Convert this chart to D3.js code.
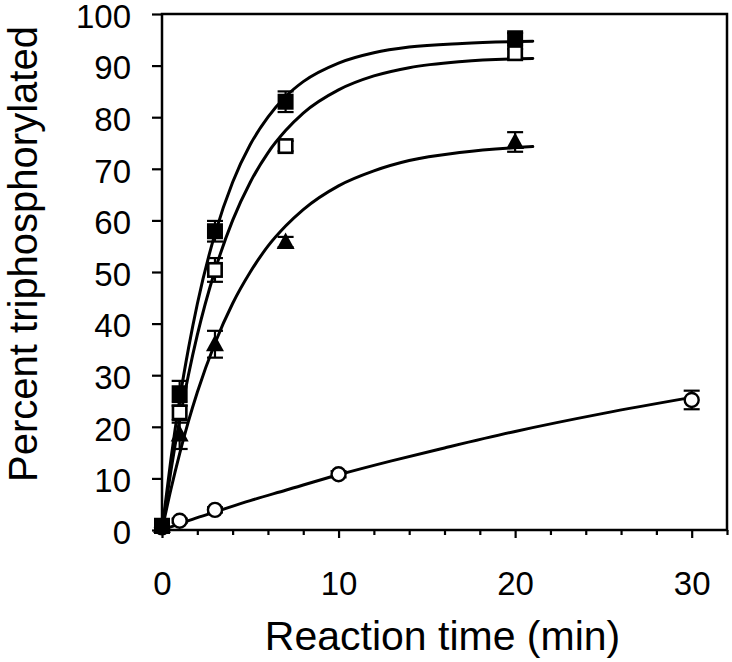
<!DOCTYPE html>
<html>
<head>
<meta charset="utf-8">
<script src="https://cdn.jsdelivr.net/npm/d3@7"></script>
<style>
  html, body { margin: 0; padding: 0; background: #fff; }
  svg { display: block; }
  text { font-family: "Liberation Sans", Arial, Helvetica, sans-serif; fill: #000; }
</style>
</head>
<body>
<svg id="chart" width="732" height="662"></svg>
<script>
// ---- data ----
const xTicks = [0, 2, 4, 6, 8, 10, 12, 14, 16, 18, 20, 22, 24, 26, 28, 30, 32];
const xTickLabels = [0, 10, 20, 30];
const yTicks = [0, 10, 20, 30, 40, 50, 60, 70, 80, 90, 100];

const sqTimes = [0, 1, 3, 7, 20];
const filledSqValues = [0.8, 26.5, 57.9, 83.0, 95.3];
const filledSqErr    = [0.5, 2.4, 2.0, 2.0, 1.0];
const openSqValues   = [0.8, 22.8, 50.4, 74.4, 92.4];
const openSqErr      = [0.5, 2.0, 2.3, 1.0, 0.8];
const triValues      = [0.8, 18.5, 36.0, 55.8, 75.2];
const triErr         = [0.5, 2.8, 2.6, 1.0, 1.9];

const circleTimes  = [0, 1, 3, 10, 30];
const circleValues = [0.5, 1.8, 3.9, 10.8, 25.2];
const circleErr    = [0.3, 0.4, 0.5, 0.6, 1.8];

// fitted curves
const fitTimes   = [0, 0.5, 1, 1.5, 2, 3, 4, 5, 6, 7, 8, 10, 12, 14, 17, 21];
const filledFit  = [0, 13.6, 25.3, 35.2, 43.8, 57.4, 67.4, 74.7, 80.0, 84.0, 86.9, 90.5, 92.5, 93.6, 94.3, 94.7];
const openFit    = [0, 11.4, 21.4, 30.1, 37.8, 50.3, 60.0, 67.4, 73.1, 77.4, 80.8, 85.3, 88.0, 89.6, 90.8, 91.4];
const triFit     = [0, 7.8, 14.8, 21.1, 26.7, 36.2, 43.9, 50.0, 55.0, 58.9, 62.1, 66.7, 69.6, 71.6, 73.2, 74.3];
const circleFitTimes = [0, 1, 2, 3, 5, 7, 10, 13, 16, 20, 25, 30];
const circleFit      = [0, 1.2, 2.4, 3.5, 5.7, 7.7, 10.7, 13.4, 15.9, 19.1, 22.6, 25.7];

const xTitle = "Reaction time (min)";
const yTitle = "Percent triphosphorylated";

// ---- layout ----
const svg = d3.select("#chart");
const plotL = 162, plotR = 727, plotT = 14, plotB = 530;
const x = d3.scaleLinear().domain([0, 32]).range([plotL, plotR]);
const y = d3.scaleLinear().domain([0, 100]).range([plotB, plotT]);

// axes
const xAxis = d3.axisBottom(x)
  .tickValues(xTicks)
  .tickSize(5)
  .tickFormat(d => xTickLabels.includes(d) ? d : "");
const gx = svg.append("g").attr("transform", `translate(0,${plotB})`).call(xAxis);
gx.select(".domain").remove();
gx.selectAll(".tick line")
  .attr("stroke", "#000").attr("stroke-width", 2.2)
  .attr("y2", d => d % 10 === 0 ? 8 : 5);
gx.selectAll(".tick text")
  .attr("y", 42).attr("dy", "0.71em")
  .style("font-size", "33px");

const yAxis = d3.axisLeft(y).tickValues(yTicks).tickSize(10).tickPadding(21);
const gy = svg.append("g").attr("transform", `translate(${plotL},0)`).call(yAxis);
gy.select(".domain").remove();
gy.selectAll(".tick line").attr("stroke", "#000").attr("stroke-width", 2.2);
gy.selectAll(".tick text").attr("dy", "0.4em").style("font-size", "33px");

// frame
svg.append("rect")
  .attr("x", plotL).attr("y", plotT)
  .attr("width", plotR - plotL).attr("height", plotB - plotT)
  .attr("fill", "none").attr("stroke", "#000").attr("stroke-width", 2.5);

// titles
svg.append("text")
  .attr("x", (plotL + plotR) / 2 - 2).attr("y", 650)
  .attr("text-anchor", "middle")
  .style("font-size", "41px")
  .text(xTitle);
svg.append("text")
  .attr("transform", `translate(37,254) rotate(-90)`)
  .attr("text-anchor", "middle")
  .style("font-size", "40px")
  .text(yTitle);

// curves
const line = d3.line().x(d => x(d[0])).y(d => y(d[1])).curve(d3.curveMonotoneX);
const curves = [
  fitTimes.map((t, i) => [t, filledFit[i]]),
  fitTimes.map((t, i) => [t, openFit[i]]),
  fitTimes.map((t, i) => [t, triFit[i]]),
  circleFitTimes.map((t, i) => [t, circleFit[i]])
];
svg.append("g").selectAll("path").data(curves).join("path")
  .attr("d", line)
  .attr("fill", "none").attr("stroke", "#000").attr("stroke-width", 3)
  .attr("stroke-linecap", "round");

// series
const series = [
  { type: "circle",  t: circleTimes, v: circleValues, e: circleErr },
  { type: "tri",     t: sqTimes, v: triValues, e: triErr },
  { type: "openSq",  t: sqTimes, v: openSqValues, e: openSqErr },
  { type: "filledSq",t: sqTimes, v: filledSqValues, e: filledSqErr }
];

const capW = 8;
series.forEach(s => {
  const pts = s.t.map((t, i) => ({ t, v: s.v[i], e: s.e[i] }));
  const g = svg.append("g");
  const eb = g.append("g").attr("stroke", "#000").attr("stroke-width", 2.2).attr("fill", "none");
  pts.forEach(p => {
    const cx = x(p.t), y1 = y(p.v + p.e), y0 = y(p.v - p.e);
    eb.append("line").attr("x1", cx).attr("x2", cx).attr("y1", y1).attr("y2", y0);
    eb.append("line").attr("x1", cx - capW).attr("x2", cx + capW).attr("y1", y1).attr("y2", y1);
    eb.append("line").attr("x1", cx - capW).attr("x2", cx + capW).attr("y1", y0).attr("y2", y0);
  });
  const m = g.append("g");
  pts.forEach(p => {
    const cx = x(p.t), cy = y(p.v);
    if (s.type === "circle") {
      m.append("circle").attr("cx", cx).attr("cy", cy).attr("r", 7)
        .attr("fill", "#fff").attr("stroke", "#000").attr("stroke-width", 2.4);
    } else if (s.type === "tri") {
      m.append("path")
        .attr("d", `M${cx},${cy - 9.5}L${cx + 9},${cy + 7}L${cx - 9},${cy + 7}Z`)
        .attr("fill", "#000");
    } else if (s.type === "openSq") {
      m.append("rect").attr("x", cx - 6.7).attr("y", cy - 6.7).attr("width", 13.4).attr("height", 13.4)
        .attr("fill", "#fff").attr("stroke", "#000").attr("stroke-width", 2.6);
    } else {
      m.append("rect").attr("x", cx - 8).attr("y", cy - 8).attr("width", 16).attr("height", 16)
        .attr("fill", "#000");
    }
  });
});
</script>
</body>
</html>
